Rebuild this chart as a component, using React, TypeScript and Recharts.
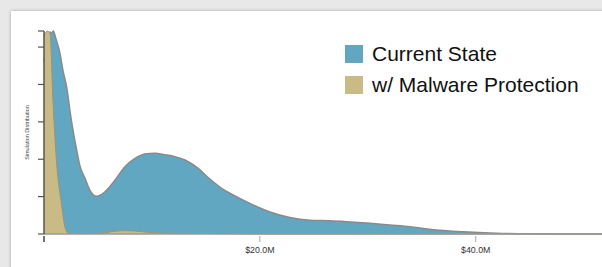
import { AreaChart, Area, XAxis, YAxis, Legend } from "recharts";

// distribution of simulated loss, x in $M
const currentX = [
  0, 0.37, 0.56, 0.69, 0.86, 1.1, 1.48, 1.76, 2.1, 2.4, 2.69, 3.03, 3.33, 3.8, 4.26, 4.88, 5.65, 6.57,
  7.5, 8.43, 9.35, 10.28, 11.2, 12.13, 13.06, 14.26, 15.37, 16.57, 17.22, 19.07, 20.93, 22.78, 24.63,
  26.48, 28.03, 30.19, 32.04, 33.9, 35.7, 38.8, 41.9, 45, 51.7,
];
const currentY = [
  4.6, 5.33, 5.4, 5.36, 5.43, 5.23, 4.83, 4.37, 3.93, 3.31, 2.77, 2.24, 1.82, 1.49, 1.17, 1.01, 1.13, 1.44,
  1.8, 2.02, 2.14, 2.16, 2.12, 2.07, 1.98, 1.76, 1.47, 1.2, 1.09, 0.82, 0.59, 0.44, 0.37,
  0.355, 0.33, 0.285, 0.24, 0.195, 0.13, 0.06, 0.02, 0.005, 0,
];
const malwareX = [0, 0.3, 0.56, 0.83, 1.2, 1.57, 1.94, 2.2, 3.5, 5.2, 6.8, 7.5, 8.4, 9.8, 11.7, 16.3, 20, 51.7];
const malwareY = [5.3, 5.43, 5.36, 3.57, 1.79, 0.9, 0.19, 0.03, 0.01, 0.02, 0.08, 0.09, 0.08, 0.04, 0.02, 0.01, 0, 0];

const xTicks = [0, 20, 40];
const yTicks = [0, 1, 2, 3, 4, 5, 5.43];

const BLUE = "#62a7c1";
const TAN = "#c9bb85";

const currentData = currentX.map((m, i) => ({ m, v: currentY[i] }));
const malwareData = malwareX.map((m, i) => ({ m, v: malwareY[i] }));

const fmtMoney = (v: number) => (v === 0 ? "" : `$${v.toFixed(1)}M`);

function XTick(props: any) {
  const { x, y, payload } = props;
  const first = payload.value === 0;
  return (
    <g>
      <line x1={x} y1={y - 6} x2={x} y2={y} stroke={first ? "#444" : "#aaa"} strokeWidth={first ? 1.5 : 1} />
      <text x={x} y={y + 11} textAnchor="middle" fontSize={8.8} fill="#333" fontFamily="'Liberation Sans Narrow', 'Liberation Sans', sans-serif">
        {fmtMoney(payload.value)}
      </text>
    </g>
  );
}

function LegendBox({ payload }: any) {
  return (
    <div style={{ fontFamily: "'Liberation Sans', Arial, sans-serif", fontSize: 21, color: "#111", textAlign: "left" }}>
      {(payload || []).map((p: any) => (
        <div key={p.value} style={{ display: "flex", alignItems: "center", height: 31.5 }}>
          <span style={{ width: 18, height: 18, background: p.payload?.fill ?? p.color, marginRight: 9 }} />
          <span>{p.value}</span>
        </div>
      ))}
    </div>
  );
}

export default function App() {
  return (
    <div style={{ position: "fixed", left: 0, top: 0, width: 602, height: 267, background: "#e8e8e8", overflow: "hidden" }}>
      <div style={{ position: "absolute", left: 11, top: 11, width: 620, height: 290, background: "#fff", boxShadow: "0 0 3px rgba(0,0,0,0.3)" }} />
      <AreaChart
        width={602}
        height={267}
        margin={{ top: 31, right: 0, bottom: 13, left: 10 }}
        style={{ position: "absolute", left: 0, top: 0 }}
      >
        <XAxis
          dataKey="m"
          type="number"
          domain={[0, 51.7]}
          ticks={xTicks}
          allowDuplicatedCategory={false}
          height={20}
          axisLine={{ stroke: "#999", strokeWidth: 1.5 }}
          tickLine={false}
          tick={<XTick />}
        />
        <YAxis
          type="number"
          domain={[0, 5.43]}
          ticks={yTicks}
          width={34}
          axisLine={{ stroke: "#555", strokeWidth: 1.5 }}
          tickLine={{ stroke: "#555", strokeWidth: 1.2 }}
          tickSize={6}
          tickFormatter={() => ""}
          label={{
            value: "Simulation Distribution",
            angle: -90,
            position: "center",
            fontSize: 5.5,
            fill: "#444",
            fontFamily: "'Liberation Sans', sans-serif",
          }}
        />
        <Legend
          layout="vertical"
          verticalAlign="middle"
          align="center"
          wrapperStyle={{ left: 345, top: 38, width: 257 }}
          content={<LegendBox />}
        />
        <Area
          data={currentData}
          dataKey="v"
          name="Current State"
          type="monotone"
          fill={BLUE}
          fillOpacity={1}
          stroke="#8a8a8a"
          strokeWidth={1.5}
          isAnimationActive={false}
        />
        <Area
          data={malwareData}
          dataKey="v"
          name="w/ Malware Protection"
          type="monotone"
          fill={TAN}
          fillOpacity={1}
          stroke="#9a9478"
          strokeWidth={1}
          isAnimationActive={false}
        />
      </AreaChart>
    </div>
  );
}
